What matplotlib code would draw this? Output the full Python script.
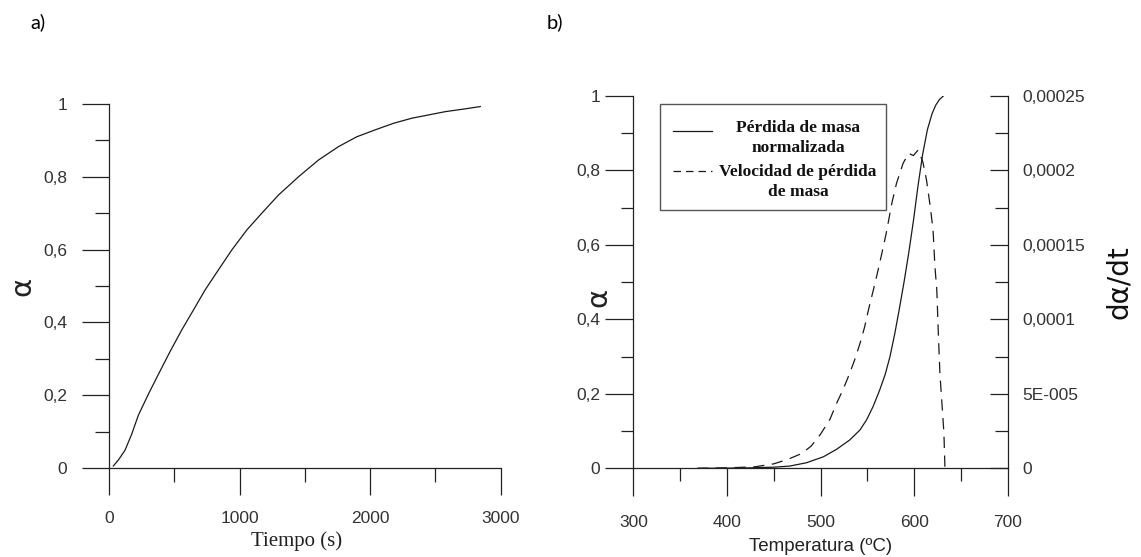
import matplotlib.pyplot as plt
from matplotlib.ticker import MultipleLocator
from matplotlib.lines import Line2D
from matplotlib.patches import Rectangle

plt.rcParams['font.family'] = ['Liberation Sans', 'DejaVu Sans']

#%% data

# a) conversion vs time
tiempo = [33, 72, 123, 174, 225, 302, 378, 468, 557, 647, 736, 838, 941, 1056, 1171, 1299, 1452, 1605,
          1759, 1899, 2040, 2180, 2321, 2449, 2577, 2717, 2845]
alpha_t = [0.0055, 0.022, 0.049, 0.093, 0.145, 0.203, 0.257, 0.32, 0.379, 0.434, 0.489, 0.544, 0.599, 0.654,
           0.70, 0.75, 0.80, 0.846, 0.883, 0.91, 0.929, 0.947, 0.961, 0.970, 0.979, 0.986, 0.993]

# b) normalised mass loss vs temperature
temp_alpha = [370, 400, 421, 450, 467, 485, 503, 517, 531, 542, 549, 556, 563, 569, 574, 579, 584, 589,
              594, 599, 604, 609, 614, 619, 623, 627, 631]
alpha_temp = [0.0, 0.0005, 0.001, 0.003, 0.006, 0.015, 0.031, 0.051, 0.076, 0.103, 0.130, 0.166, 0.21, 0.253,
              0.300, 0.360, 0.428, 0.500, 0.578, 0.664, 0.760, 0.845, 0.910, 0.953, 0.976, 0.991, 1.0]

# b) mass loss rate vs temperature
temp_rate = [368, 400, 430, 450, 465, 480, 490, 500, 510, 517, 524, 531, 537, 542, 547, 551, 558, 563, 570,
             576, 581, 588, 594, 599, 604, 609, 613, 617, 620, 622, 624, 625.5, 627.3, 630.2, 631.6, 632.7]
rate = [0.0, 0.003e-4, 0.01e-4, 0.03e-4, 0.06e-4, 0.10e-4, 0.15e-4, 0.23e-4, 0.33e-4, 0.436e-4, 0.53e-4,
        0.638e-4, 0.74e-4, 0.839e-4, 0.95e-4, 1.063e-4, 1.242e-4, 1.377e-4, 1.578e-4, 1.78e-4, 1.914e-4,
        2.048e-4, 2.115e-4, 2.10e-4, 2.137e-4, 2.06e-4, 1.936e-4, 1.757e-4, 1.60e-4, 1.354e-4, 1.197e-4,
        0.929e-4, 0.638e-4, 0.369e-4, 0.235e-4, 0.0]

alpha_ticks = [0, 0.2, 0.4, 0.6, 0.8, 1]
alpha_labels = ["0", "0,2", "0,4", "0,6", "0,8", "1"]
tiempo_ticks = [0, 1000, 2000, 3000]
temp_ticks = [300, 400, 500, 600, 700]
rate_ticks = [0, 5e-5, 1e-4, 1.5e-4, 2e-4, 2.5e-4]
rate_labels = ["0", "5E-005", "0,0001", "0,00015", "0,0002", "0,00025"]

#%% figure
W, H = 1141, 557
fig = plt.figure(figsize=(W / 100, H / 100), dpi=100)

line_col = '#1a1a1a'
spine_col = '#222222'
lab_col = '#333333'


def fx(px):
    return px / W


def fy(py):
    return 1 - py / H


def style_axes(ax):
    for s in ['top', 'right']:
        ax.spines[s].set_visible(False)
    for s in ['left', 'bottom']:
        ax.spines[s].set_color(spine_col)
        ax.spines[s].set_linewidth(0.9)


# a)
ax1 = fig.add_axes([fx(109), fy(468), fx(500.5 - 109), (468 - 104) / H])
ax1.plot(tiempo, alpha_t, color=line_col, lw=0.9)
ax1.set_xlim(0, 3000)
ax1.set_ylim(0, 1)
style_axes(ax1)
ax1.set_xticks(tiempo_ticks)
ax1.set_yticks(alpha_ticks, alpha_labels)
ax1.xaxis.set_minor_locator(MultipleLocator(500))
ax1.yaxis.set_minor_locator(MultipleLocator(0.1))
ax1.tick_params(which='major', length=19.5, width=0.9, color=spine_col, labelsize=12.5, labelcolor=lab_col)
ax1.tick_params(which='minor', length=10, width=0.9, color=spine_col)
ax1.tick_params(axis='x', which='major', pad=11.5)
ax1.tick_params(axis='y', which='major', pad=10.5)
ax1.set_xlabel("Tiempo (s)", family='Liberation Serif', fontsize=15, color='#222222')
ax1.xaxis.set_label_coords(0.48, -0.175)
ax1.xaxis.label.set_va('top')
fig.text(fx(22), fy(286), "α", rotation=90, fontsize=21, ha='center', va='center', color='#222222',
         family='DejaVu Sans')

# b)
ax2 = fig.add_axes([fx(633.3), fy(468.3), fx(1008 - 633.3), 372.3 / H])
ax2.plot(temp_alpha, alpha_temp, color=line_col, lw=0.9)
ax2.set_xlim(300, 700)
ax2.set_ylim(0, 1)
style_axes(ax2)
ax2.set_xticks(temp_ticks)
ax2.set_yticks(alpha_ticks, alpha_labels)
ax2.xaxis.set_minor_locator(MultipleLocator(50))
ax2.yaxis.set_minor_locator(MultipleLocator(0.1))
ax2.tick_params(which='major', length=20, width=0.9, color=spine_col, labelsize=12.5, labelcolor=lab_col)
ax2.tick_params(which='minor', length=9, width=0.9, color=spine_col)
ax2.tick_params(axis='x', which='major', pad=13.5)
ax2.tick_params(axis='y', which='major', pad=4)
ax2.set_xlabel("Temperatura (ºC)", fontsize=13.5, color='#222222')
ax2.xaxis.set_label_coords(0.5, -0.187)
ax2.xaxis.label.set_va('top')
fig.text(fx(598), fy(297), "α", rotation=90, fontsize=21, ha='center', va='center', color='#222222',
         family='DejaVu Sans')

ax3 = ax2.twinx()
ax3.plot(temp_rate, rate, color=line_col, lw=0.9, linestyle=(0, (9, 6)))
ax3.set_ylim(0, 2.5e-4)
for s in ['top', 'left', 'bottom']:
    ax3.spines[s].set_visible(False)
ax3.spines['right'].set_color(spine_col)
ax3.spines['right'].set_linewidth(0.9)
ax3.set_yticks(rate_ticks, rate_labels)
ax3.yaxis.set_minor_locator(MultipleLocator(2.5e-5))
ax3.tick_params(axis='y', which='major', direction='in', length=13, width=0.9, color=spine_col,
                labelsize=12.5, labelcolor=lab_col, pad=10.5)
ax3.tick_params(axis='y', which='minor', direction='in', length=9.4, width=0.9, color=spine_col)
fig.text(fx(1119), fy(282), "dα/dt", rotation=90, fontsize=20, ha='center', va='center', color='#111111',
         family='DejaVu Sans')

# hand drawn legend box
fig.add_artist(Rectangle((fx(660), fy(210.5)), fx(226), 106.5 / H, transform=fig.transFigure,
                         fc='white', ec='#555555', lw=1.0))
fig.add_artist(Line2D([fx(673), fx(712)], [fy(130.5)] * 2, transform=fig.transFigure, color=line_col, lw=0.9))
fig.add_artist(Line2D([fx(673), fx(712)], [fy(170.5)] * 2, transform=fig.transFigure, color=line_col, lw=0.9,
                      linestyle=(0, (6, 4))))
leg_lines = ["Pérdida de masa", "normalizada", "Velocidad de pérdida", "de masa"]
leg_y = [131.5, 152.5, 176, 196.5]
for txt, yy in zip(leg_lines, leg_y):
    fig.text(fx(798), fy(yy), txt, ha='center', va='baseline', family='Liberation Serif',
             fontweight='bold', fontsize=12.5, color='#111111')

# panel letters
fig.text(fx(38), fy(22), "a)", ha='center', va='center', family='Lato', fontsize=14.5)
fig.text(fx(555), fy(22), "b)", ha='center', va='center', family='Lato', fontsize=14.5)

plt.savefig("out.png", dpi=100)
